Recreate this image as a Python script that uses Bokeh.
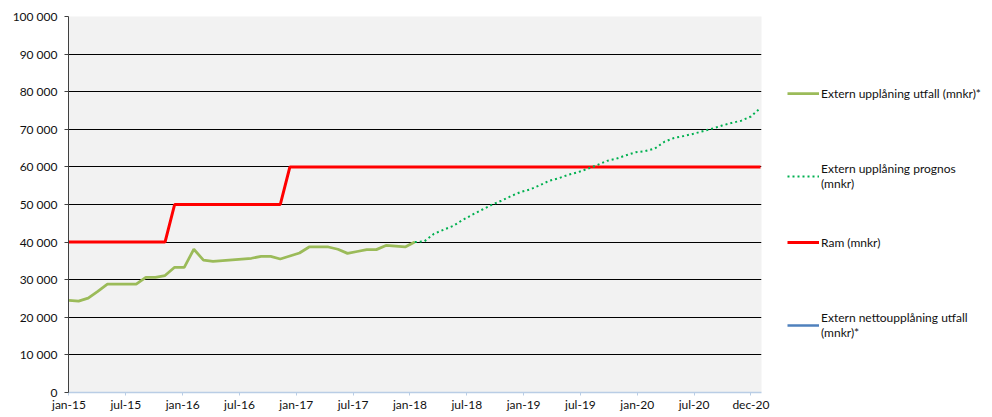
from bokeh.plotting import figure
from bokeh.layouts import row
from bokeh.models import Range1d, FixedTicker, CustomJSTickFormatter, Legend, LegendItem
from bokeh.embed import file_html
from bokeh.resources import INLINE

# month index 0 = jan-15
x_tick_labels = ["jan-15", "jul-15", "jan-16", "jul-16", "jan-17", "jul-17", "jan-18",
                 "jul-18", "jan-19", "jul-19", "jan-20", "jul-20", "dec-20"]
y_ticks = [0, 10000, 20000, 30000, 40000, 50000, 60000, 70000, 80000, 90000, 100000]
y_tick_labels = ["0", "10 000", "20 000", "30 000", "40 000", "50 000", "60 000",
                 "70 000", "80 000", "90 000", "100 000"]

utfall = [24500, 24300, 25100, 26900, 28800, 28800, 28800, 28800, 30600, 30600,
          31100, 33300, 33300, 38100, 35200, 34900, 35100, 35300, 35500, 35700,
          36200, 36200, 35500, 36300, 37100, 38700, 38700, 38700, 38100, 37000,
          37500, 38000, 38000, 39100, 38900, 38700, 40000]
prognos = [40000, 40200, 42200, 43300, 44300, 45900, 47300, 48600, 49900, 51000,
           52200, 53300, 54000, 55100, 56300, 57000, 57900, 58600, 59500, 60500,
           61600, 62200, 63100, 63900, 64200, 64900, 66700, 67700, 68200, 68800,
           69500, 70200, 71000, 71700, 72300, 73400, 75700]
ram = [40000] * 11 + [50000] * 12 + [60000] * 50
netto = [float("nan")]  # no visible values in the chart

labels = ["Extern upplåning utfall (mnkr)*",
          "Extern upplåning prognos\n(mnkr)",
          "Ram (mnkr)",
          "Extern nettoupplåning utfall\n(mnkr)*"]

n_months = len(ram)
x_all = list(range(n_months))
x_utfall = x_all[:len(utfall)]
x_prognos = x_all[len(utfall) - 1:len(utfall) - 1 + len(prognos)]
x_netto = x_all[:len(netto)]

H = 414
FONT = "Lato"
TXT = "#111111"


def draw_series(fig):
    r_ram = fig.line(x_all, ram, line_color="#ff0000", line_width=3)
    r_utfall = fig.line(x_utfall, utfall, line_color="#9bbb59", line_width=2.75)
    r_prognos = fig.line(x_prognos, prognos, line_color="#00b050", line_width=2, line_dash="2 3")
    r_netto = fig.line(x_netto, netto, line_color="#4f81bd", line_width=2.5)
    return [r_utfall, r_prognos, r_ram, r_netto]


p = figure(width=771, height=H, output_backend="svg", toolbar_location=None,
           x_range=Range1d(-0.05, 72.1), y_range=Range1d(0, 100000),
           min_border_left=68, min_border_right=10, min_border_top=16, min_border_bottom=0)
p.background_fill_color = "#f2f2f2"
p.border_fill_color = "white"
p.outline_line_color = None

p.xgrid.grid_line_color = None
p.ygrid.grid_line_color = "#000000"
p.ygrid.grid_line_width = 1
p.ygrid.ticker = FixedTicker(ticks=y_ticks)

p.yaxis.ticker = FixedTicker(ticks=y_ticks)
p.yaxis.major_label_overrides = {t: l for t, l in zip(y_ticks, y_tick_labels)}
p.yaxis.axis_line_color = "#404040"
p.yaxis.major_tick_line_color = "#404040"
p.yaxis.major_tick_out = 4
p.yaxis.major_tick_in = 0
p.yaxis.minor_tick_line_color = None
p.yaxis.major_label_text_font = FONT
p.yaxis.major_label_text_font_size = "12px"
p.yaxis.major_label_text_color = TXT
p.yaxis.major_label_standoff = 7

x_tick_pos = [j * 71 / 12 for j in range(len(x_tick_labels))]
p.xaxis.ticker = FixedTicker(ticks=x_tick_pos)
p.xaxis.formatter = CustomJSTickFormatter(args=dict(labels=x_tick_labels),
                                          code="const i = Math.round(tick*12/71); return labels[i] || '';")
p.xaxis.axis_line_color = "#b9cde5"
p.xaxis.axis_line_width = 1.5
p.xaxis.major_tick_line_color = "#b9cde5"
p.xaxis.major_tick_out = 3
p.xaxis.major_tick_in = 0
p.xaxis.minor_tick_line_color = None
p.xaxis.major_label_text_font = FONT
p.xaxis.major_label_text_font_size = "12px"
p.xaxis.major_label_text_color = TXT
p.xaxis.major_label_standoff = 1

draw_series(p)

# legend panel: a figure of its own, with the series drawn outside its view
pl = figure(width=215, height=H, output_backend="svg", toolbar_location=None,
            x_range=Range1d(1000, 1001), y_range=Range1d(0, 1),
            x_axis_type=None, y_axis_type=None,
            min_border_left=0, min_border_right=0, min_border_top=0, min_border_bottom=0)
pl.grid.grid_line_color = None
pl.outline_line_color = None
pl.background_fill_color = "white"
pl.border_fill_color = "white"
leg_renderers = draw_series(pl)

# bottom offsets (px from the bottom of the legend panel) of each legend entry
leg_bottoms = [291, 201, 142, 52]
for lab, r, vy in zip(labels, leg_renderers, leg_bottoms):
    lg = Legend(items=[LegendItem(label=lab, renderers=[r])], location=(16, vy))
    lg.padding = 0
    lg.margin = 0
    lg.border_line_color = None
    lg.background_fill_alpha = 0
    lg.label_text_font = FONT
    lg.label_text_font_size = "12px"
    lg.label_text_color = TXT
    lg.glyph_width = 32
    lg.glyph_height = 16
    lg.label_standoff = 2
    pl.add_layout(lg, "center")

layout = row(p, pl)
open("out.html", "w").write(file_html(layout, INLINE))
